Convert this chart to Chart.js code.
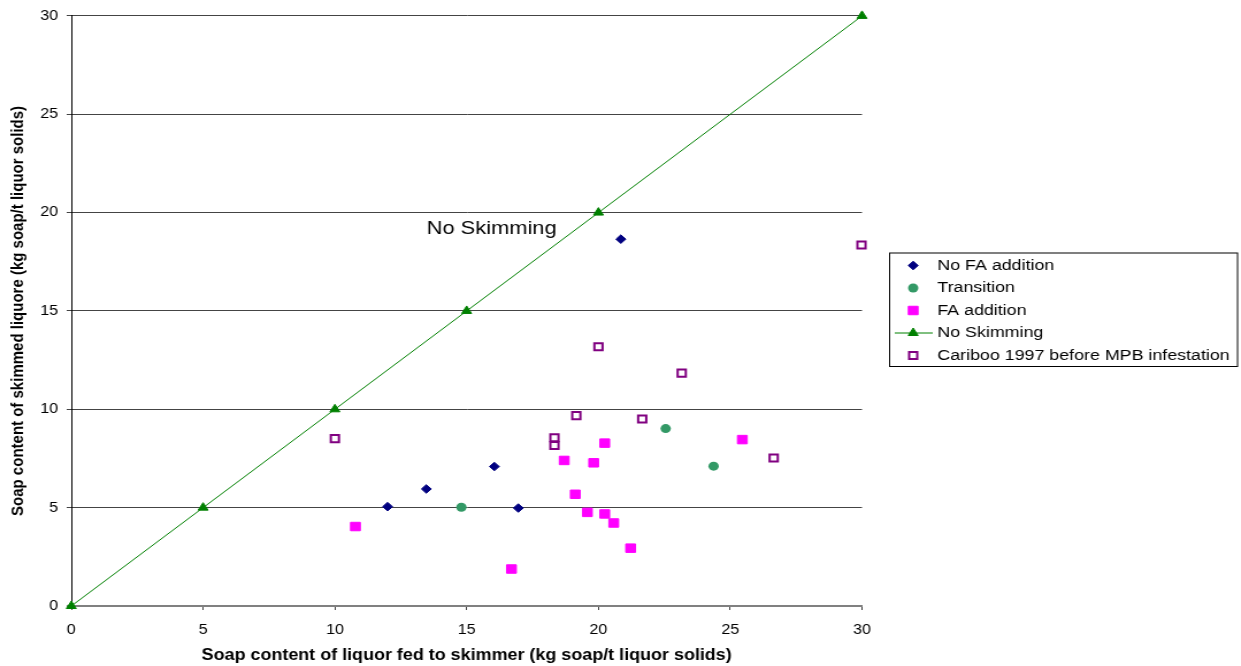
<!DOCTYPE html>
<html><head><meta charset="utf-8">
<script src="https://cdn.jsdelivr.net/npm/chart.js@4.4.1/dist/chart.umd.min.js"></script>
<style>
html,body{margin:0;padding:0;background:#fff;overflow:hidden;width:1241px;height:666px;}
#wrap{position:absolute;left:0;top:0;width:1079px;height:666px;transform:scaleX(1.1501);transform-origin:0 0;}
</style></head><body>
<div id="wrap"><canvas id="c"></canvas></div>
<script>
// ---- data ----
const seriesNames = ['No FA addition', 'Transition', 'FA addition', 'No Skimming', 'Cariboo 1997 before MPB infestation'];
const noFA = [[12.0,5.05],[13.47,5.95],[16.05,7.09],[16.96,4.98],[20.85,18.65]];
const transition = [[14.8,5.02],[22.55,9.02],[24.37,7.11]];
const faAddition = [[10.78,4.04],[16.7,1.88],[18.7,7.4],[19.12,5.68],[19.58,4.76],[19.82,7.28],[20.24,8.28],[20.24,4.68],[20.58,4.22],[21.22,2.94],[25.46,8.46]];
const noSkimming = [[0,0],[5,5],[10,10],[15,15],[20,20],[30,30]];
const cariboo = [[10.0,8.51],[18.33,8.55],[18.33,8.16],[19.16,9.68],[20.0,13.18],[21.66,9.51],[23.16,11.84],[26.65,7.52],[29.98,18.35]];
const xTicks = [0,5,10,15,20,25,30];
const yTicks = [0,5,10,15,20,25,30];
const xTitle = 'Soap content of liquor fed to skimmer (kg soap/t liquor solids)';
const yTitle = 'Soap content of skimmed liquore (kg soap/t liquor solids)';
const annotationText = 'No Skimming';
const annotationPos = [15.95, 19.18];

const FONT = '"Liberation Sans", Arial, sans-serif';
const toXY = a => a.map(p => ({x:p[0], y:p[1]}));

const datasets = [
  {label: seriesNames[0], data: toXY(noFA), pointStyle:'rectRot', pointRadius:4.3, backgroundColor:'#000080', borderColor:'#000080', borderWidth:1, showLine:false},
  {label: seriesNames[1], data: toXY(transition), pointStyle:'circle', pointRadius:4.5, backgroundColor:'#339966', borderColor:'#339966', borderWidth:0, showLine:false},
  {label: seriesNames[2], data: toXY(faAddition), pointStyle:'rect', pointRadius:6, backgroundColor:'#FF00FF', borderColor:'#FF00FF', borderWidth:1, showLine:false},
  {label: seriesNames[3], data: toXY(noSkimming), pointStyle:'triangle', pointRadius:5, backgroundColor:'#008000', borderColor:'#008000', pointBorderColor:'#008000', pointBackgroundColor:'#008000', borderWidth:1, pointBorderWidth:1, showLine:true, tension:0},
  {label: seriesNames[4], data: toXY(cariboo), pointStyle:'rect', pointRadius:5, backgroundColor:'#ffffff', borderColor:'#800080', borderWidth:2, showLine:false}
];
datasets.forEach(d => { d.clip = false; d.pointHoverRadius = d.pointRadius; });

const legendPlugin = {
  id: 'customLegend',
  afterDraw(chart) {
    const ctx = chart.ctx;
    const bx = 773, by = 252.5, bw = 302.5, bh = 113.5;
    ctx.save();
    ctx.strokeStyle = '#000';
    ctx.lineWidth = 1;
    ctx.strokeRect(bx + 0.5, by + 0.5, bw, bh);
    const rows = [265.5, 288, 310.5, 333, 355.5];
    const mx = 794, tx = 815;
    ctx.font = '15.5px ' + FONT;
    ctx.textBaseline = 'middle';
    ctx.textAlign = 'left';
    chart.data.datasets.forEach((ds, i) => {
      const y = rows[i];
      if (ds.showLine) {
        ctx.strokeStyle = ds.borderColor;
        ctx.lineWidth = 1;
        ctx.beginPath(); ctx.moveTo(778, y); ctx.lineTo(811, y); ctx.stroke();
      }
      ctx.fillStyle = ds.pointBackgroundColor || ds.backgroundColor;
      ctx.strokeStyle = ds.pointBorderColor || ds.borderColor;
      ctx.lineWidth = ds.borderWidth;
      Chart.helpers.drawPoint(ctx, {pointStyle: ds.pointStyle, radius: ds.pointRadius, rotation: 0, borderWidth: ds.borderWidth}, mx, y);
      ctx.fillStyle = '#000';
      ctx.fillText(ds.label, tx, y);
    });
    ctx.restore();
  }
};

const annotationPlugin = {
  id: 'noSkimText',
  afterDatasetsDraw(chart) {
    const ctx = chart.ctx;
    const x = chart.scales.x.getPixelForValue(annotationPos[0]);
    const y = chart.scales.y.getPixelForValue(annotationPos[1]);
    ctx.save();
    ctx.font = '19px ' + FONT;
    ctx.fillStyle = '#000';
    ctx.textAlign = 'center';
    ctx.textBaseline = 'middle';
    ctx.fillText(annotationText, x, y);
    ctx.restore();
  }
};

new Chart(document.getElementById('c'), {
  type: 'scatter',
  data: {datasets},
  options: {
    responsive: true,
    maintainAspectRatio: false,
    animation: false,
    events: [],
    layout: {padding: {left: 0, top: 14, right: 329.5, bottom: 0}},
    plugins: {legend: {display: false}, tooltip: {enabled: false}},
    scales: {
      x: {
        type: 'linear', min: 0, max: 30,
        afterBuildTicks: s => { s.ticks = xTicks.map(v => ({value: v})); },
        afterFit: s => { s.height = 60; },
        ticks: {color: '#000', font: {family: FONT, size: 14}, padding: 12, maxRotation: 0},
        grid: {drawOnChartArea: false, drawTicks: true, tickLength: 4, color: '#444'},
        border: {display: true, color: '#808080', width: 2},
        title: {display: true, text: xTitle, color: '#000', font: {family: FONT, size: 15.6, weight: 'bold'}, padding: {top: 0, bottom: 1}}
      },
      y: {
        type: 'linear', min: 0, max: 30,
        afterBuildTicks: s => { s.ticks = yTicks.map(v => ({value: v})); },
        afterFit: s => { s.width = 62; },
        ticks: {color: '#000', font: {family: FONT, size: 14}, padding: 7.5},
        grid: {drawTicks: true, tickLength: 4, color: c => (c.tick && c.tick.value === 0) ? '#808080' : '#444', lineWidth: c => (c.tick && c.tick.value === 0) ? 2 : 1},
        border: {display: true, color: '#000', width: 1},
        title: {display: true, text: yTitle, color: '#000', font: {family: FONT, size: 15, weight: 'bold'}, padding: {top: 6.7, bottom: 0}}
      }
    }
  },
  plugins: [annotationPlugin, legendPlugin]
});
</script>
</body></html>
